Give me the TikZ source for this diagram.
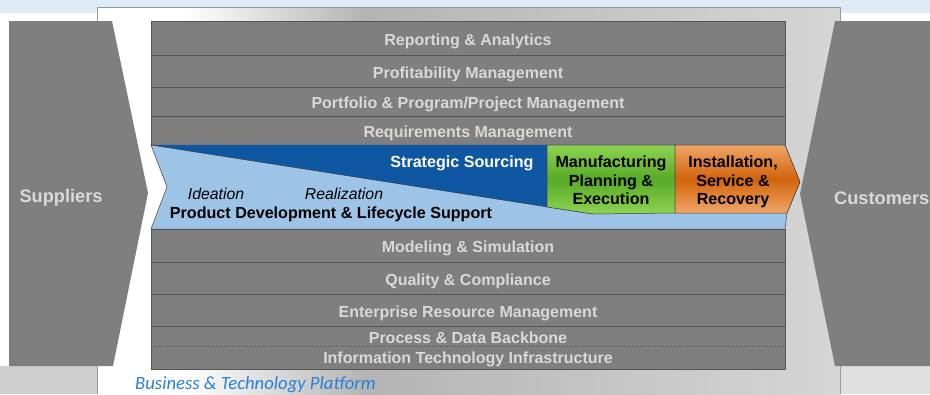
\documentclass[tikz,border=0pt]{standalone}
\usepackage{xcolor}
\usepackage{tikz}
\usepackage{fontspec}
\setmainfont{Liberation Sans}
\newfontfamily\platformfont{Carlito}
\usetikzlibrary{calc}
\usetikzlibrary{positioning}

\definecolor{stripblue}{RGB}{222,234,246}
\definecolor{layergray}{RGB}{127,127,127}
\definecolor{layerline}{RGB}{85,85,85}
\definecolor{layertextgray}{RGB}{217,217,217}
\definecolor{bandblue}{RGB}{157,195,230}
\definecolor{sourceblue}{RGB}{15,86,163}
\definecolor{mfglight}{RGB}{142,212,82}
\definecolor{mfgdark}{RGB}{88,170,40}
\definecolor{instlight}{RGB}{241,166,104}
\definecolor{instdark}{RGB}{209,99,12}
\definecolor{platformblue}{RGB}{41,128,214}
\definecolor{platformgray}{RGB}{180,180,180}
\definecolor{platformlight}{RGB}{214,214,214}

\pgfdeclarehorizontalshading{platformshade}{100bp}{color(0bp)=(white); color(31bp)=(white); color(43bp)=(platformgray); color(75bp)=(platformlight); color(100bp)=(platformlight)}

\begin{document}
\begin{tikzpicture}[x=1pt, y=-1pt,
    layer/.style={fill=layergray, draw=layerline, line width=0.8pt},
    layertext/.style={text=layertextgray, font=\fontsize{16}{18}\selectfont\bfseries,
      text height=11pt, text depth=3pt, inner sep=0pt},
    party/.style={fill=layergray},
    partytext/.style={text=layertextgray, font=\fontsize{18.2}{20}\selectfont\bfseries, inner sep=0pt},
    stagetext/.style={font=\fontsize{16.1}{18.5}\selectfont\bfseries, align=center, inner sep=0pt},
    phasetext/.style={font=\fontsize{15.8}{18}\selectfont\itshape, inner sep=0pt},
    edge/.style={draw=black!75, line width=0.5pt}]

    \useasboundingbox (0,0) rectangle (930,394);
    \fill[stripblue] (0,0) rectangle (930,13);
    \fill[black!19] (0,366) rectangle (97,394);
    \fill[black!12] (840,366) rectangle (930,394);
    \shade[shading=platformshade] (97,7) rectangle (840,400);
    \draw[black!40] (97,394) -- (97,7) -- (840,7) -- (840,394);

    \fill[party] (9,21) -- (112,21) -- (148,193) -- (113,366) -- (9,366) -- cycle;
    \node[partytext] (suppliers) at (61,198) {Suppliers};
    \fill[party] (835,21) -- (930,21) -- (930,366) -- (835,366) -- (800,194) -- cycle;
    \node[partytext, anchor=west] (customers) at (834,198) {Customers};

    \foreach \ytop/\ybot/\lname [count=\i] in {21/55/{Reporting \& Analytics},
      55/87/{Profitability Management}, 87/116/{Portfolio \& Program/Project Management},
      116/145/{Requirements Management}, 229/262/{Modeling \& Simulation},
      262/294/{Quality \& Compliance}, 294/326/{Enterprise Resource Management}}
    {
      \draw[layer] (151,\ytop) rectangle (785,\ybot);
      \node[layertext] (layer\i) at (468,{(\ytop+\ybot)/2+3.2}) {\lname};
    }
    \draw[layer] (151,326) rectangle (785,369);
    \draw[layerline, dotted, line width=0.6pt] (151,346) -- (785,346);
    \node[layertext] (backbone) at (468,339.5) {Process \& Data Backbone};
    \node[layertext] (infrastructure) at (468,359) {Information Technology Infrastructure};

    \filldraw[fill=bandblue, edge] (151,145) -- (785,145) -- (800,182) -- (787,213)
      -- (785,229) -- (151,229) -- (167,187) -- cycle;
    \fill[sourceblue] (151,145) -- (547,145) -- (547,207) -- cycle;
    \draw[edge] (151,145) -- (593,214);
    \shadedraw[top color=mfglight, bottom color=mfglight, middle color=mfgdark, edge]
      (547,145) -- (675,145) -- (675,213) -- (593,214) -- (547,207) -- cycle;
    \shadedraw[top color=instlight, bottom color=instlight, middle color=instdark, edge]
      (675,145) -- (785,145) -- (800,182) -- (787,213) -- (675,213) -- cycle;

    \node[stagetext, text=white] (sourcing) at (462,163.5) {Strategic Sourcing};
    \node[stagetext] (manufacturing) at (611,180.5) {Manufacturing\\Planning \&\\Execution};
    \node[stagetext] (installation) at (733,182) {Installation,\\Service \&\\Recovery};
    \node[phasetext] (ideation) at (216,193.5) {Ideation};
    \node[phasetext] (realization) at (344,193.5) {Realization};
    \node[stagetext] (lifecycle) at (331,214.5) {Product Development \& Lifecycle Support};

    \node[text=platformblue, font=\platformfont\itshape\fontsize{18.7}{20}\selectfont,
      anchor=west, inner sep=0pt] (platform) at (135,384.5) {Business \& Technology Platform};

\end{tikzpicture}
\end{document}
